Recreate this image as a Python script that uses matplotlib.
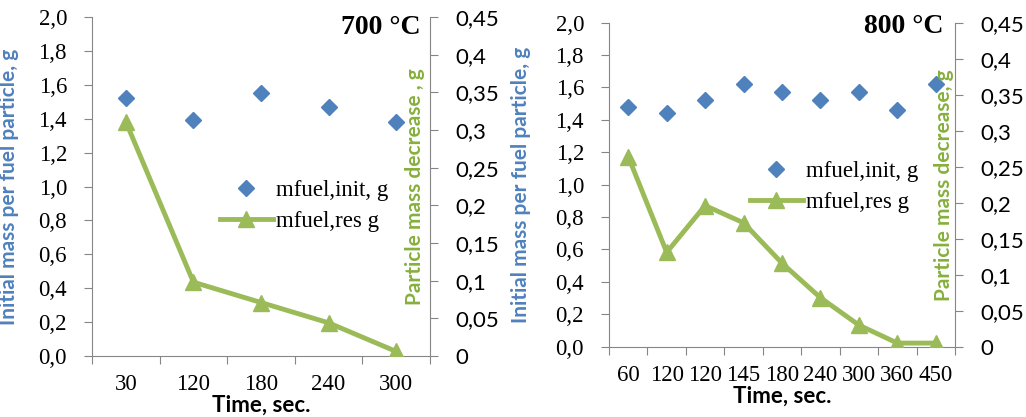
import matplotlib
matplotlib.use("Agg")
import matplotlib.pyplot as plt
from matplotlib.lines import Line2D

# 700 C panel
cats_700 = ['30', '120', '180', '240', '300']
init_700 = [1.52, 1.39, 1.55, 1.47, 1.38]
res_700 = [0.311, 0.098, 0.071, 0.044, 0.006]

# 800 C panel
cats_800 = ['60', '120', '120', '145', '180', '240', '300', '360', '450']
init_800 = [1.48, 1.44, 1.52, 1.62, 1.57, 1.52, 1.57, 1.46, 1.62]
res_800 = [0.264, 0.131, 0.196, 0.172, 0.116, 0.068, 0.030, 0.005, 0.005]

left_ticks = [0.0, 0.2, 0.4, 0.6, 0.8, 1.0, 1.2, 1.4, 1.6, 1.8, 2.0]
left_labels = ['0,0', '0,2', '0,4', '0,6', '0,8', '1,0', '1,2', '1,4', '1,6', '1,8', '2,0']
right_ticks = [0, 0.05, 0.1, 0.15, 0.2, 0.25, 0.3, 0.35, 0.4, 0.45]
right_labels = ['0', '0,05', '0,1', '0,15', '0,2', '0,25', '0,3', '0,35', '0,4', '0,45']

BLUE = '#4F81BD'
GREEN = '#9BBB59'
GREEN_LBL = '#86B03C'
GRAY = '#868686'
SERIF = 'Liberation Serif'
SANS = 'Lato'

fig = plt.figure(figsize=(10.26, 4.17), dpi=100)


def panel(rect, cats, init, res, title, title_xy, green_label, green_x, leg_xy, blue_x):
    ax = fig.add_axes(rect)
    x = list(range(len(cats)))
    ax.plot(x, init, linestyle='none', marker='D', markersize=8.5, color=BLUE, zorder=3)
    ax.set_xlim(-0.5, len(cats) - 0.5)
    ax.set_ylim(0, 2.0)
    ax.set_yticks(left_ticks)
    ax.set_yticklabels(left_labels, fontfamily=SERIF, fontsize=16.5)
    ax.set_xticks([i - 0.5 for i in range(len(cats) + 1)])
    ax.set_xticklabels([])
    ax.set_xticks(x, minor=True)
    ax.set_xticklabels(cats, minor=True, fontfamily=SERIF, fontsize=16.5)
    ax.tick_params(axis='x', which='major', direction='out', length=6, color=GRAY)
    ax.tick_params(axis='x', which='minor', length=0, pad=13)
    ax.tick_params(axis='y', direction='out', length=6, color=GRAY, pad=12)
    for s in ['top', 'right']:
        ax.spines[s].set_visible(False)
    for s in ['left', 'bottom']:
        ax.spines[s].set_color(GRAY)
    ax.set_ylabel('Initial mass per fuel particle, g', color=BLUE, fontfamily=SANS,
                  fontweight='bold', fontsize=15)
    ax.yaxis.set_label_coords(blue_x, 0.5)
    ax.set_xlabel('Time, sec.', fontfamily=SANS, fontweight='bold', fontsize=16, labelpad=0)

    ax2 = ax.twinx()
    ax2.plot(x, res, color=GREEN, linewidth=3.5, marker='^', markersize=12, zorder=4)
    ax2.set_ylim(0, 0.45)
    ax2.set_yticks(right_ticks)
    ax2.set_yticklabels(right_labels, fontfamily=SANS, fontsize=16)
    ax2.tick_params(axis='y', direction='out', length=6, color=GRAY, pad=12)
    for s in ['top', 'left', 'bottom']:
        ax2.spines[s].set_visible(False)
    ax2.spines['right'].set_color(GRAY)
    ax2.set_ylabel(green_label, color=GREEN_LBL, fontfamily=SANS, fontweight='bold',
                   fontsize=15, rotation=90)
    ax2.yaxis.set_label_coords(green_x, 0.5)

    ax2.text(title_xy[0], title_xy[1], title, transform=ax2.transAxes, ha='right',
             va='center', fontfamily=SERIF, fontweight='bold', fontsize=20)

    handles = [Line2D([], [], linestyle='none', marker='D', markersize=8.5, color=BLUE),
               Line2D([], [], color=GREEN, linewidth=3.5, marker='^', markersize=12)]
    ax2.legend(handles, ['mfuel,init, g', 'mfuel,res g'], loc='upper left',
               bbox_to_anchor=leg_xy, frameon=False, borderpad=0, borderaxespad=0,
               handlelength=2.3, handletextpad=0.15, labelspacing=0.45,
               prop={'family': SERIF, 'size': 16.5})
    return ax, ax2


panel([0.0897, 0.1463, 0.3294, 0.8129], cats_700, init_700, res_700, '700 °C',
      (0.973, 0.969), 'Particle mass decrease , g', 0.925, (0.379, 0.52), -0.215)
panel([0.5936, 0.1686, 0.3372, 0.7770], cats_800, init_800, res_800, '800 °C',
      (0.968, 0.988), 'Particle mass decrease, g', 0.94, (0.4075, 0.574), -0.225)

fig.savefig('out.png', dpi=100)
